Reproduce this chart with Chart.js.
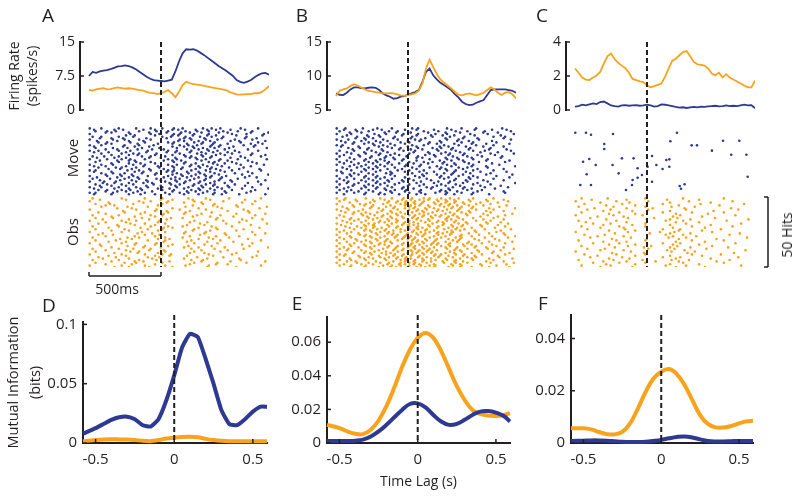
<!DOCTYPE html>
<html>
<head>
<meta charset="utf-8">
<title>Firing rate, rasters and mutual information</title>
<script src="https://cdn.jsdelivr.net/npm/chart.js@4.4.1/dist/chart.umd.min.js"></script>
<style>
  body { margin: 0; background: #fff; }
  #fig { position: relative; width: 800px; height: 498px; overflow: hidden;
         font-family: 'Open Sans', sans-serif; color: #231f20; }
  #fig canvas { position: absolute; left: 0; top: 0; }
  .t { position: absolute; white-space: nowrap; line-height: 1; transform: translate(-50%, -50%); }
  .r { transform: translate(-50%, -50%) rotate(-90deg); }
  .p { font-size: 19px; }
</style>
</head>
<body>
<div id="fig">
  <canvas id="frA" width="800" height="498"></canvas>
  <canvas id="frB" width="800" height="498"></canvas>
  <canvas id="frC" width="800" height="498"></canvas>
  <canvas id="rsA" width="800" height="498"></canvas>
  <canvas id="rsB" width="800" height="498"></canvas>
  <canvas id="rsC" width="800" height="498"></canvas>
  <canvas id="miD" width="800" height="498"></canvas>
  <canvas id="miE" width="800" height="498"></canvas>
  <canvas id="miF" width="800" height="498"></canvas>

  <div class="t p" style="left:48px;top:15px">A</div>
  <div class="t p" style="left:302px;top:15px">B</div>
  <div class="t p" style="left:542px;top:15px">C</div>
  <div class="t p" style="left:49px;top:305px">D</div>
  <div class="t p" style="left:297px;top:303px">E</div>
  <div class="t p" style="left:543px;top:303px">F</div>
  <div class="t r" style="left:72px;top:158px;font-size:15px">Move</div>
  <div class="t r" style="left:72px;top:232px;font-size:15px">Obs</div>
  <div class="t" style="left:117px;top:289px;font-size:14px">500ms</div>
  <div class="t r" style="left:787px;top:235px;font-size:14px">50 Hits</div>
</div>

<script>
// -----------------------------------------------------------------------------
// DATA
// -----------------------------------------------------------------------------
const BLUE = '#2e3a91';
const ORANGE = '#f9a21b';
const INK = '#231f20';

// firing rate (spikes/s), time in s relative to the event
const frTime = [-0.5, -0.475, -0.45, -0.425, -0.4, -0.375, -0.35, -0.325, -0.3, -0.275,
  -0.25, -0.225, -0.2, -0.175, -0.15, -0.125, -0.1, -0.075, -0.05, -0.025,
  0, 0.025, 0.05, 0.075, 0.1, 0.125, 0.15, 0.175, 0.2, 0.225,
  0.25, 0.275, 0.3, 0.325, 0.35, 0.375, 0.4, 0.425, 0.45, 0.475,
  0.5, 0.525, 0.55, 0.575, 0.6, 0.625, 0.65, 0.675, 0.7, 0.725, 0.75];

const frMoveA = [7.5, 8.4, 8.2, 8.5, 8.7, 8.8, 9.0, 9.3, 9.6, 9.7,
  9.85, 9.7, 9.4, 9.0, 8.45, 7.9, 7.35, 6.9, 6.6, 6.5,
  6.4, 6.3, 6.5, 6.7, 8.5, 10.7, 12.5, 13.4, 13.3, 13.4,
  13.1, 12.6, 12.1, 11.5, 10.9, 10.3, 9.7, 9.2, 8.7, 8.1,
  7.5, 6.6, 6.2, 6.0, 6.25, 6.6, 7.2, 7.7, 8.1, 8.2, 7.8];
const frObsA = [4.4, 4.3, 4.55, 4.7, 4.8, 4.55, 4.6, 4.85, 5.0, 4.85,
  4.7, 4.8, 4.7, 4.55, 4.4, 4.3, 4.0, 3.8, 3.7, 3.5,
  3.7, 4.0, 4.4, 3.7, 2.8, 4.0, 5.5, 6.2, 5.9, 5.7,
  5.6, 5.5, 5.3, 5.15, 5.0, 4.85, 4.7, 4.55, 4.4, 4.0,
  3.7, 3.45, 3.4, 3.45, 3.5, 3.5, 3.7, 3.7, 4.0, 4.55, 5.3];

const frMoveB = [7.44, 7.24, 7.2, 7.54, 8.03, 8.32, 8.32, 8.22, 8.17, 8.27,
  8.32, 8.27, 7.93, 7.44, 7.15, 6.95, 6.66, 6.76, 6.95, 7.05,
  7.24, 7.44, 7.63, 7.93, 9.15, 10.6, 11.1, 10.1, 9.5, 9.0,
  8.66, 8.32, 7.93, 7.34, 6.85, 6.22, 5.88, 5.73, 5.78, 6.07,
  6.27, 6.46, 7.2, 7.93, 8.03, 8.03, 8.03, 8.03, 7.93, 7.83, 7.54];
const frObsB = [7.05, 7.83, 8.03, 8.17, 8.51, 8.8, 8.6, 8.32, 8.03, 7.83,
  7.73, 7.63, 7.54, 7.44, 7.44, 7.49, 7.44, 7.29, 7.15, 7.1,
  7.2, 7.29, 7.44, 7.83, 8.9, 11.1, 12.4, 11.3, 10.3, 9.5,
  9.0, 8.6, 8.17, 7.68, 7.24, 7.15, 7.34, 7.44, 7.29, 7.15,
  7.34, 7.54, 7.93, 8.32, 8.03, 7.54, 7.2, 7.54, 7.63, 7.34, 6.7];

const frMoveC = [0.2, 0.23, 0.31, 0.27, 0.33, 0.39, 0.35, 0.47, 0.5, 0.39,
  0.27, 0.23, 0.2, 0.27, 0.29, 0.25, 0.27, 0.29, 0.25, 0.27,
  0.31, 0.27, 0.2, 0.23, 0.33, 0.31, 0.27, 0.23, 0.18, 0.14,
  0.16, 0.12, 0.16, 0.18, 0.16, 0.2, 0.18, 0.21, 0.23, 0.25,
  0.21, 0.23, 0.27, 0.23, 0.25, 0.23, 0.27, 0.31, 0.27, 0.29, 0.1];
const frObsC = [2.44, 2.19, 1.91, 1.79, 1.76, 1.91, 2.03, 2.24, 2.73, 3.16,
  3.32, 3.0, 2.77, 2.61, 2.46, 2.19, 1.83, 1.76, 1.68, 1.64,
  1.44, 1.33, 1.4, 1.48, 1.56, 1.95, 2.44, 2.89, 3.02, 3.22,
  3.41, 3.47, 3.16, 2.83, 2.69, 2.65, 2.61, 2.44, 2.15, 2.05,
  2.19, 1.91, 2.11, 1.91, 1.79, 1.68, 1.56, 1.44, 1.33, 1.33, 1.72];

const frTicksA = [0, 7.5, 15];
const frTicksB = [5, 10, 15];
const frTicksC = [0, 2, 4];

// rasters: one string per pair of trials, one character per 20 ms bin with a spike;
// successive characters alternate between the two trials of the pair
const COLS = '0123456789abcdefghijklmnopqrstuvwxyzABCDEFGHIJKLMNOPQRSTUVWXYZ';
const BIN = 1.25 / COLS.length;

const rasterMoveA = [
  '0148abgilmpstuwADEGHJMQRW', '25679dhknqrvxyBCFIKLPTUZ', '0ceflmostuvzAEFHNOSXY',
  '1347abfjpqswxyCDGJKRSV', '0289cdhiluvwzBEFIMOPUY', '3567egjnrstxACDGHLQTWX',
  '014bcfhkmsvwyzBFGIJNRUV', '2589dgilopuxABDEHKMSZ', '0136acejkqrtuyzCFGILOPW',
  '47bdfghmnsvwBCEHJKNTUY', '1258acikloqtxyzADFGMQRX', '0369bdefjprsuvBCEIJLPSZ',
  '27adghlmtwxAFGHKNOUV', '01458cfijnrsuyzBDEIJQTY', '369abegkoptvwACFGHMPRW',
  '0127dfhilqrstxzBEFJKNSX', '458aceimnsuvyACDHIOQUZ', '0269bdfgkprtwxzBEFGJLRTV',
  '137acehjnostvyADEIJMPY', '04589dgiklqruwxBCFHKNSW', '2367bcfjmostvzACEGHLORX',
  '0148adghknpruwyBDFIJMQUZ', '3569bcegilpstxzACEHKNTV', '01278dfhjmqrvwyBDGHJLPSY'];
const rasterObsA = [
  '13bcjopsyzEFMRX', '06hilqrwACKQV', '2578fnpzDGHOU', '49deksxBIJPWZ', '0bgmnqvyELRS',
  '35chjprwxCGOTY', '17aflmpzBFJNV', '248diksqwHIQUX', '05bcgnoyAEKPS', '39efjmqxCDLTZ',
  '16ahlprswBGHNW', '27cdknpzAFIOR', '04bgilqwxDEKUY', '358fjmoyCHLPV', '1adehnqrwBFGMS',
  '269ckpqxzEJNX', '03bfgmnsADIQU', '47dijorwyBGKTZ', '15acfklpzCHLR', '28eghnqyADJOW',
  '06bcjmprsxFGNV', '349dklowBEKPU', '17afhinrzCDMQY', '25cegmpyAHILS', '08bdjkqsxEFOX'];

const rasterMoveB = [
  '02369cefjnqrsxCDHLMRVW', '1478bgiklpuvzBFGJOPTY', '035adehmnrswyACEKLQUZ',
  '2679bcfjkpquxBDHIMSVW', '0148adghlorstzCFGJNRY', '3569bcfimnpvwyAEHKLPTX',
  '0127deghkoqruzBCGIMOSV', '458abfjlmpstxyADEJKQRW', '1369cdghnqrvzBFGLNPTY',
  '0257aefiklpuwxACDHIMRSZ', '148bcghjorstyBEFJKOUV', '0369adfgkmnrwzCDGHLPQX',
  '1257bcehilpquvxABEIJNRW', '0468adfgjnostyCDFKLPUZ', '2379bcehkmqrwzABGHJMQV',
  '0158adfilnpsuxCEFILNSW', '2467bchijoqtvyBDEHKPRY', '0359adegknrsuzACGJLMTX',
  '1268bcfhjmpqvwBEFIKOSV', '0347adegilnrtxzCDHJMQZ', '1569bcfhkopsuyABFGLNRU',
  '0248adegjmnqvwxCEHIKPSX', '1357bchiknostzABDFJMOV', '0269aefgjlprtuyBCEHKLQW'];
const rasterObsB = [
  '0236acfgjmnpqsuvwyABDEGJLPSV', '147bdhiklnoqrtuxzBCEFHKNQTX', '0589acgimnoprstvyzACDFIJMORW',
  '236bcehjknpqruwxBDEGHKLQUZ', '01479fgiloprstvyzACFGJMPSV', '3568abehjkmnqsuvxBDEHIKORY',
  '129adfgilmpqrtuwyzACEFJNQTW', '0457bcehjknoqrsvxBCDGHLOSV', '2368aefgiklnpqtuwyzACEFIMPRU',
  '0159bcdhjmnopqsvxABDGHJNQTX', '3478acdfikloprstwyzCEFHKOSW', '0269abeghjmnpqsuvxBDFGILPUY',
  '1357cdfhijmoqrtuwyzACDEJMQTV', '0489abegjklnopstuxzBDGHKNRWZ', '1256cdfhkmnopqruwyACFGHLPSX',
  '0378abeghiloqrstvxyBEFGJNQUY', '1469cefgjmnpqsuwxyzCDHJKORW', '0257abdhiklopqrtvxABDFILMPTV',
  '1348cegjkmnprsuvwyCEFGJMQUZ', '0569abdfhiloqrstvwxBDEHKNRSX', '1237cehjkmnpqsuxyzACFHILOTW',
  '0489bcfgiklnopstvwzBEGJKMQUY', '1356adhjmnoqrtuwyACEFHLPSV', '0278bcfhilmnpqrsvxBDFGJNRWZ',
  '1459aegijkmoprtuwxyCEGHKOQTX'];

const rasterObsC = [
  '25bhovBGP', '08eipwDKS', '3agkuzHNW', '16dhoqxBFR', '49cjpwCLU',
  '2bfkuyEJP', '07dgnxAHT', '5aiorwzDMX', '13ehvyBGQ', '69cjowCKV',
  '28fgoxEIS', '4bhkuzAHO', '0diptwyDLU', '37agvxBFR', '5cjowzCMX',
  '19ehoyEIP', '6bfkuxAGT', '2dinqwzDLQ', '48agpvyBJW', '0cjnxCFS',
  '37ekowEHO', '5bgiuyAKU', '19dhnrxzDMR', '6afkowBGP', '28cjvyCIV'];

// panel C "Move" raster is sparse: individual spikes (time s, trial position)
const cMoveTime = [-0.498, -0.424, -0.389, -0.236, 0.208, -0.297, -0.297, 0.162, 0.31, 0.347,
  0.528, 0.641, 0.451, 0.585, 0.69, -0.444, -0.401, -0.356, -0.239, -0.174,
  -0.093, -0.197, -0.419, -0.065, 0.035, 0.134, 0.155, 0.065, 0.004, 0.108,
  0.155, -0.035, -0.065, -0.1, -0.104, -0.146, 0.035, -0.463, -0.389, 0.227,
  0.236, 0.261, 0.699];
const cMoveTrial = [95.9, 95.9, 94.5, 95, 95.9, 87.9, 84.3, 89.8, 86.9, 86.9,
  90.2, 90.2, 83.1, 80.2, 80.2, 75.2, 77.1, 72.9, 72.9, 77.6,
  77.6, 66.9, 66.2, 70.5, 79.3, 76.4, 76.9, 72.9, 71.6, 70,
  71.6, 65.7, 63.8, 62.1, 58.6, 55, 60.9, 58.6, 58.6, 57.9,
  55.9, 59.1, 64.5];

// mutual information (bits) vs time lag (s)
const miTime = [-0.58, -0.5, -0.45, -0.4, -0.35, -0.3, -0.25, -0.2, -0.15, -0.1, -0.05, 0,
  0.05, 0.1, 0.15, 0.2, 0.25, 0.3, 0.35, 0.4, 0.45, 0.5, 0.55, 0.59];

const miMoveD = [0.0078, 0.0125, 0.016, 0.0195, 0.0217, 0.0222, 0.02, 0.015, 0.0139, 0.02, 0.036, 0.057,
  0.0805, 0.092, 0.0894, 0.0708, 0.05, 0.0278, 0.016, 0.015, 0.02, 0.0264, 0.0306, 0.0306];
const miObsD = [0.0015, 0.0025, 0.003, 0.0032, 0.003, 0.003, 0.0025, 0.0018, 0.0015, 0.0025, 0.0038, 0.0045,
  0.005, 0.0052, 0.0048, 0.0035, 0.0025, 0.0018, 0.0015, 0.0015, 0.0015, 0.0015, 0.0015, 0.0015];

const miMoveE = [0.0012, 0.0012, 0.0012, 0.0014, 0.002, 0.0039, 0.0069, 0.0108, 0.0153, 0.0197, 0.0232, 0.0236,
  0.0212, 0.0167, 0.0128, 0.0108, 0.0114, 0.0138, 0.0167, 0.0187, 0.019, 0.0181, 0.0161, 0.0128];
const miObsE = [0.0108, 0.0089, 0.0069, 0.0055, 0.0053, 0.0079, 0.0134, 0.022, 0.033, 0.0452, 0.0555, 0.0626,
  0.0655, 0.0626, 0.0547, 0.0443, 0.0338, 0.0256, 0.0197, 0.0173, 0.0163, 0.0161, 0.0167, 0.0177];

const miMoveF = [0.0008, 0.0009, 0.001, 0.001, 0.0009, 0.0007, 0.0005, 0.0004, 0.0004, 0.0005, 0.0008, 0.0012,
  0.0018, 0.0023, 0.0025, 0.0021, 0.0014, 0.0008, 0.0006, 0.0006, 0.0007, 0.0008, 0.0008, 0.0008];
const miObsF = [0.0056, 0.0056, 0.0052, 0.0042, 0.0034, 0.0033, 0.0043, 0.0075, 0.0132, 0.0196, 0.0247, 0.0273,
  0.0283, 0.0264, 0.0222, 0.0164, 0.0107, 0.0073, 0.006, 0.0059, 0.0065, 0.0075, 0.0083, 0.0085];

const miTicksD = [0, 0.05, 0.1];
const miTicksE = [0, 0.02, 0.04, 0.06];
const miTicksF = [0, 0.02, 0.04];
const lagTicks = [-0.5, 0, 0.5];

// -----------------------------------------------------------------------------
// HELPERS
// -----------------------------------------------------------------------------
Chart.defaults.font.family = "'Open Sans', sans-serif";
Chart.defaults.color = INK;

// inward ticks, zero-lag dashed line and scale bars
const decor = {
  id: 'decor',
  afterDatasetsDraw(chart, args, o) {
    const { ctx, chartArea: a, scales: { x, y } } = chart;
    const seg = (x1, y1, x2, y2) => { ctx.beginPath(); ctx.moveTo(x1, y1); ctx.lineTo(x2, y2); ctx.stroke(); };
    ctx.save();
    ctx.strokeStyle = INK;
    ctx.lineWidth = 1.5;
    if (o.yTicks) y.ticks.forEach(t => { const p = y.getPixelForValue(t.value); seg(a.left, p, a.left + 4, p); });
    if (o.xTicks) x.ticks.forEach(t => { const p = x.getPixelForValue(t.value); seg(p, a.bottom, p, a.bottom - 4); });
    if (o.timeBar) {
      const b = o.timeBar, yb = a.bottom + b.gap;
      const x1 = x.getPixelForValue(b.from), x2 = x.getPixelForValue(b.to);
      seg(x1, yb, x2, yb); seg(x1, yb, x1, yb - 4); seg(x2, yb, x2, yb - 4);
    }
    if (o.hitsBar) {
      const b = o.hitsBar, xb = a.right + b.gap;
      const y1 = y.getPixelForValue(b.from), y2 = y.getPixelForValue(b.to);
      seg(xb, y1, xb, y2); seg(xb, y1, xb - 4, y1); seg(xb, y2, xb - 4, y2);
    }
    if (o.zero) {
      ctx.lineWidth = 2;
      ctx.setLineDash([5, 3]);
      const p = x.getPixelForValue(0);
      seg(p, a.top - o.zero[0], p, a.bottom + o.zero[1]);
    }
    ctx.restore();
  }
};

const pairs = (xs, ys) => xs.map((x, i) => ({ x, y: ys[i] }));
const ticksFrom = list => s => { s.ticks = list.map(v => ({ value: v })); };

// plot box [left, top, right, bottom] -> layout padding on the full-page canvas
function pad(box, yw, xh) {
  return { left: box[0] - yw, top: box[1], right: 800 - box[2], bottom: 498 - box[3] - xh };
}

// decode a raster: row r holds trials (2r, 2r+1), characters alternate between them
function rasterPoints(rows, top) {
  const pts = [];
  rows.forEach((row, r) => {
    [...row].forEach((ch, k) => {
      const second = k % 2;
      pts.push({ x: -0.5 + (COLS.indexOf(ch) + 0.25 + 0.5 * second) * BIN, y: top - 2 * r - second });
    });
  });
  return pts;
}

const base = {
  responsive: false,
  animation: false,
  events: [],
};

// -----------------------------------------------------------------------------
// FIRING RATE
// -----------------------------------------------------------------------------
function firingChart(id, box, move, obs, yMin, yMax, yTicks, withTitle) {
  const yw = withTitle ? 74 : 40;
  new Chart(document.getElementById(id), {
    type: 'line',
    data: {
      datasets: [
        { data: pairs(frTime, obs), borderColor: ORANGE, borderWidth: 1.8, pointRadius: 0 },
        { data: pairs(frTime, move), borderColor: BLUE, borderWidth: 1.8, pointRadius: 0 }
      ]
    },
    options: {
      ...base,
      layout: { padding: pad(box, yw, 0) },
      plugins: { legend: { display: false }, tooltip: { enabled: false }, decor: { yTicks: true } },
      scales: {
        x: { type: 'linear', display: false, min: -0.5625, max: 0.75 },
        y: {
          min: yMin, max: yMax,
          afterBuildTicks: ticksFrom(yTicks),
          afterFit: s => { s.width = yw; },
          grid: { display: false, drawTicks: false },
          border: { color: INK, width: 2 },
          ticks: { font: { size: 14 }, padding: 5, color: INK, callback: v => String(v) },
          title: {
            display: withTitle, text: ['Firing Rate', '(spikes/s)'], color: INK,
            font: { size: 14, lineHeight: 1.3 }, padding: 0
          }
        }
      }
    },
    plugins: [decor]
  });
}

firingChart('frA', [80, 42, 269, 110], frMoveA, frObsA, 0, 15, frTicksA, true);
firingChart('frB', [327, 42, 516, 110], frMoveB, frObsB, 5, 15, frTicksB, false);
firingChart('frC', [566, 42, 755, 110], frMoveC, frObsC, 0, 4, frTicksC, false);

// -----------------------------------------------------------------------------
// RASTERS
// -----------------------------------------------------------------------------
function rasterChart(id, box, movePts, obsPts, extra) {
  new Chart(document.getElementById(id), {
    type: 'scatter',
    data: {
      datasets: [
        { data: movePts, backgroundColor: BLUE, borderWidth: 0, pointRadius: 1.3, pointHoverRadius: 0 },
        { data: obsPts, backgroundColor: ORANGE, borderWidth: 0, pointRadius: 1.3, pointHoverRadius: 0 }
      ]
    },
    options: {
      ...base,
      layout: { padding: pad(box, 0, 0) },
      plugins: { legend: { display: false }, tooltip: { enabled: false }, decor: { zero: [85, 0], ...extra } },
      scales: {
        x: { type: 'linear', display: false, min: -0.5625, max: 0.75 },
        y: { display: false, min: 0, max: 100 }
      }
    },
    plugins: [decor]
  });
}

rasterChart('rsA', [80, 127, 269, 267], rasterPoints(rasterMoveA, 99), rasterPoints(rasterObsA, 49),
  { timeBar: { from: -0.5, to: 0, gap: 9 } });
rasterChart('rsB', [327, 127, 516, 267], rasterPoints(rasterMoveB, 99), rasterPoints(rasterObsB, 49), {});
rasterChart('rsC', [566, 127, 755, 267], pairs(cMoveTime, cMoveTrial), rasterPoints(rasterObsC, 49),
  { hitsBar: { from: 0, to: 50, gap: 13 } });

// -----------------------------------------------------------------------------
// MUTUAL INFORMATION
// -----------------------------------------------------------------------------
function infoChart(id, box, move, obs, yMax, yTicks, tension, withTitle, withXTitle) {
  const yw = withTitle ? 80 : 40;
  new Chart(document.getElementById(id), {
    type: 'line',
    data: {
      datasets: [
        { data: pairs(miTime, move), borderColor: BLUE, borderWidth: 4, pointRadius: 0, tension, clip: false },
        { data: pairs(miTime, obs), borderColor: ORANGE, borderWidth: 4, pointRadius: 0, tension, clip: false }
      ]
    },
    options: {
      ...base,
      layout: { padding: pad(box, yw, 50) },
      plugins: {
        legend: { display: false }, tooltip: { enabled: false },
        decor: { yTicks: true, xTicks: true, zero: [box[1] - 315, 0] }
      },
      scales: {
        x: {
          type: 'linear', min: -0.58, max: 0.59,
          afterBuildTicks: ticksFrom(lagTicks),
          afterFit: s => { s.height = 50; },
          grid: { display: false, drawTicks: false },
          border: { color: INK, width: 2 },
          ticks: { font: { size: 15 }, padding: 8, color: INK, maxRotation: 0, callback: v => String(v) },
          title: { display: withXTitle, text: 'Time Lag (s)', color: INK, font: { size: 14 }, padding: { top: 0, bottom: 3 } }
        },
        y: {
          min: 0, max: yMax,
          afterBuildTicks: ticksFrom(yTicks),
          afterFit: s => { s.width = yw; },
          grid: { display: false, drawTicks: false },
          border: { color: INK, width: 2 },
          ticks: { font: { size: 15 }, padding: 6, color: INK, callback: v => String(v) },
          title: {
            display: withTitle, text: ['Mutual Information', '(bits)'], color: INK,
            font: { size: 14.5, lineHeight: 1.5 }, padding: 0
          }
        }
      }
    },
    plugins: [decor]
  });
}

infoChart('miD', [83, 322, 267, 443], miMoveD, miObsD, 0.102, miTicksD, 0.15, true, false);
infoChart('miE', [327, 317, 510, 443], miMoveE, miObsE, 0.075, miTicksE, 0.4, false, true);
infoChart('miF', [571, 315, 753, 443], miMoveF, miObsF, 0.049, miTicksF, 0.4, false, false);
</script>
</body>
</html>
